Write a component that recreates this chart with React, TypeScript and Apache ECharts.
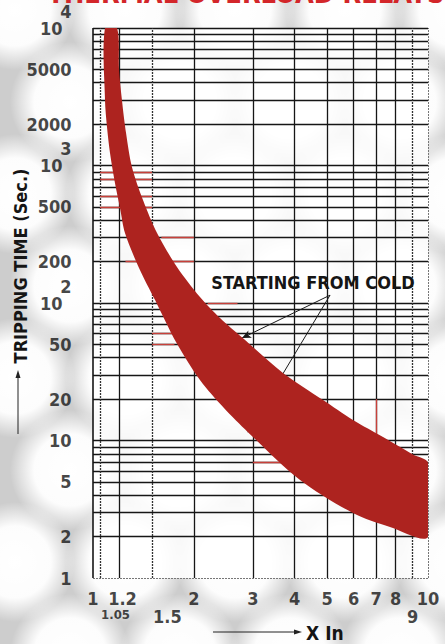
import React, { useEffect, useRef } from "react";
import * as echarts from "echarts";

const FONT = '"Liberation Sans Narrow","DejaVu Sans Condensed","Liberation Sans",Arial,sans-serif';
const RED = "#ad231f";

// Band boundaries (X In, seconds)
const upperX = [1.179, 1.196, 1.22, 1.255, 1.307, 1.41, 1.553, 1.781, 2.086, 2.394, 2.8, 3.69, 4.86, 5.97, 7.34, 9.02, 10];
const upperY = [10000, 4950, 2995, 1723, 975, 561, 323, 183, 110.6, 77.8, 55.6, 31, 19.7, 14.1, 10.6, 7.9, 6.86];
const lowerX = [1.086, 1.086, 1.101, 1.124, 1.163, 1.204, 1.246, 1.372, 1.532, 1.769, 2.086, 2.46, 2.9, 4.15, 5.97, 7.7, 10];
const lowerY = [10000, 2995, 1905, 1233, 746, 491, 323, 180, 105, 52, 27.5, 17.2, 11.5, 5.16, 2.97, 2.35, 1.99];

// Grid
const xGridSolid = [1.2, 2, 3, 4, 5, 6, 7, 8];
const xGridDotted = [1.05, 1.5, 9];
const yGridLines = [2, 3, 4, 5, 6, 7, 8, 9, 10, 20, 30, 40, 50, 60, 70, 80, 90, 100, 200, 300, 400, 500, 600, 700, 800, 900, 1000, 2000, 3000, 4000, 5000, 6000, 7000, 8000, 9000, 10000];

// Tick labels
const xLabelsMain = [1, 1.2, 2, 3, 4, 5, 6, 7, 8, 10];
const xLabelsLow = [1.05, 1.5, 9];
const yLabels = [1, 2, 5, 10, 20, 50, 100, 200, 500, 1000, 2000, 5000, 10000];
const yPowers: Record<number, string> = { 100: "2", 1000: "3", 10000: "4" };

// Faint red print strokes on the grid [x1, x2, y]
const redStrokesH = [[1.05, 1.5, 900], [1.05, 1.5, 800], [1.05, 1.5, 600], [1.05, 1.5, 500], [1.6, 2, 300], [1.25, 2, 200], [1.5, 1.75, 60], [1.5, 1.75, 50], [2.2, 2.7, 100], [3, 4, 7]];
const redStrokesV = [[7, 9, 20]];

// Annotation arrows
const coldFrom = [5.1, 114];
const coldTo = [[2.785, 55.6], [2.9, 11.5]];

export default function App() {
  const ref = useRef<HTMLDivElement>(null);
  useEffect(() => {
    document.body.style.margin = "0";
    const chart = echarts.init(ref.current!, null, { renderer: "svg" });

    const bgCircles: any[] = [];
    for (let r = 0; r < 8; r++) {
      for (let c = 0; c < 6; c++) {
        const cx = c * 110 + (r % 2 ? 55 : 0) + 15;
        const cy = r * 92 + 10;
        bgCircles.push({
          type: "circle",
          shape: { cx, cy, r: 60 },
          style: {
            fill: {
              type: "radial", x: 0.5, y: 0.5, r: 0.5,
              colorStops: [
                { offset: 0, color: "rgba(255,255,255,1)" },
                { offset: 0.6, color: "rgba(255,255,255,0.95)" },
                { offset: 1, color: "rgba(255,255,255,0)" },
              ],
            },
          },
          silent: true,
          z: -100,
        });
      }
    }

    const labelStyle = { fontFamily: FONT, fontWeight: "bold", color: "#151515" };

    const option: any = {
      animation: false,
      backgroundColor: "#cdcdcd",
      grid: { left: 93, right: 17, top: 28, bottom: 66, show: true, backgroundColor: "rgba(255,255,255,0.86)", borderWidth: 0 },
      xAxis: {
        type: "log", logBase: 10, min: 1, max: 10,
        axisLine: { show: false }, axisTick: { show: false }, axisLabel: { show: false }, splitLine: { show: false },
      },
      yAxis: {
        type: "log", logBase: 10, min: 1, max: 10000,
        axisLine: { show: false }, axisTick: { show: false }, axisLabel: { show: false }, splitLine: { show: false },
      },
      graphic: [
        ...bgCircles,
        {
          type: "text", x: 246, y: 7, z: 1,
          style: { text: "THERMAL OVERLOAD RELAYS", fill: "#d3262a", font: `bold 27px ${FONT}`, align: "center", verticalAlign: "bottom" },
        },
        {
          type: "text", x: 20, y: 266, rotation: Math.PI / 2, z: 10,
          style: { text: "TRIPPING TIME (Sec.)", fill: "#151515", font: `bold 18px ${FONT}`, align: "center", verticalAlign: "middle" },
        },
        { type: "line", shape: { x1: 18, y1: 434, x2: 18, y2: 377 }, style: { stroke: "#222", lineWidth: 1 }, z: 10 },
        { type: "polygon", shape: { points: [[18, 370], [15.5, 378], [20.5, 378]] }, style: { fill: "#222" }, z: 10 },
        { type: "line", shape: { x1: 213, y1: 632, x2: 295, y2: 632 }, style: { stroke: "#222", lineWidth: 1 }, z: 10 },
        { type: "polygon", shape: { points: [[302, 632], [294, 629.5], [294, 634.5]] }, style: { fill: "#222" }, z: 10 },
        {
          type: "text", x: 306, y: 633, z: 10,
          style: { text: "X In", fill: "#151515", font: `bold 19px ${FONT}`, align: "left", verticalAlign: "middle" },
        },
        {
          type: "text", x: 313, y: 282, z: 10,
          style: { text: "STARTING FROM COLD", fill: "#151515", font: `bold 18px ${FONT}`, align: "center", verticalAlign: "middle" },
        },
      ],
      series: [
        // grid lines
        {
          type: "line", data: [[1, 1]], symbol: "none", lineStyle: { opacity: 0 }, silent: true, z: 1,
          markLine: {
            silent: true, symbol: ["none", "none"], label: { show: false }, animation: false,
            lineStyle: { color: "#161616", width: 1.3, type: "solid" },
            data: [
              ...yGridLines.map((v) => ({ yAxis: v })),
              ...xGridSolid.map((v) => ({ xAxis: v })),
              { xAxis: 1, lineStyle: { width: 1.6 } },
              ...xGridDotted.map((v) => ({ xAxis: v, lineStyle: { type: [2, 1], width: 1.3, color: "#333" } })),
              ...xGridDotted.map((v) => [
                { coord: [v, 1], lineStyle: { type: [2, 1], width: 1.2, color: "#555" } },
                { coord: [v, 0.76] },
              ]),
              { yAxis: 1, lineStyle: { type: [2, 1], width: 1, color: "#777" } },
              { xAxis: 10, lineStyle: { type: [2, 1], width: 1, color: "#777" } },
            ],
          },
        },
        // red print strokes
        {
          type: "line", data: [[1, 1]], symbol: "none", lineStyle: { opacity: 0 }, silent: true, z: 2,
          markLine: {
            silent: true, symbol: ["none", "none"], label: { show: false }, animation: false,
            lineStyle: { color: "#c8403a", width: 1.3, type: "solid" },
            data: [
              ...redStrokesH.map(([a, b, y]) => [{ coord: [a, y] }, { coord: [b, y] }]),
              ...redStrokesV.map(([x, a, b]) => [{ coord: [x, a] }, { coord: [x, b] }]),
            ],
          },
        },
        // tripping band
        {
          type: "custom", coordinateSystem: "cartesian2d", data: [[1, 1]], z: 5, silent: true, clip: true,
          renderItem: (_params: any, api: any) => {
            const pts: number[][] = [];
            for (let i = 0; i < upperX.length; i++) pts.push(api.coord([upperX[i], upperY[i]]));
            for (let i = lowerX.length - 1; i >= 0; i--) pts.push(api.coord([lowerX[i], lowerY[i]]));
            return { type: "polygon", shape: { points: pts, smooth: 0.3 }, style: { fill: RED } };
          },
        },
        // annotation arrows
        {
          type: "line", data: [[1, 1]], symbol: "none", lineStyle: { opacity: 0 }, silent: true, z: 8,
          markLine: {
            silent: true, symbol: ["none", "arrow"], symbolSize: [6, 9], label: { show: false }, animation: false,
            lineStyle: { color: "#1a1a1a", width: 1, type: "solid" },
            data: coldTo.map((t) => [{ coord: coldFrom }, { coord: t }]),
          },
        },
        // y labels
        {
          type: "scatter", data: yLabels.map((v) => [1, v]), symbolSize: 1, itemStyle: { color: "rgba(0,0,0,0)" }, silent: true, clip: false, z: 9,
          label: {
            show: true, position: "left", distance: 21,
            formatter: (p: any) => {
              const v = p.value[1];
              if (yPowers[v]) return `{s|${yPowers[v]}}\n{n|10}\n{s| }`;
              return `{m|${v}}`;
            },
            rich: {
              s: { ...labelStyle, fontSize: 18, lineHeight: 16 },
              n: { ...labelStyle, fontSize: 18, lineHeight: 18, padding: [0, 9, 0, 0] },
              m: { ...labelStyle, fontSize: 18 },
            },
          },
        },
        // x labels main row
        {
          type: "scatter",
          data: xLabelsMain.map((v) => ({ value: [v, 1], label: v === 1.2 ? { offset: [3, 0] } : undefined })),
          symbolSize: 1, itemStyle: { color: "rgba(0,0,0,0)" }, silent: true, clip: false, z: 9,
          label: { show: true, position: "bottom", distance: 11, formatter: (p: any) => String(p.value[0]), ...labelStyle, fontSize: 18 },
        },
        // x labels lower row
        {
          type: "scatter",
          data: xLabelsLow.map((v) => ({ value: [v, 1], label: v < 2 ? { align: "left", offset: [1, 0] } : undefined })),
          symbolSize: 1, itemStyle: { color: "rgba(0,0,0,0)" }, silent: true, clip: false, z: 9,
          label: {
            show: true, position: "bottom", distance: 29,
            formatter: (p: any) => (p.value[0] === 1.05 ? `{sm|1.05}` : `{md|${p.value[0]}}`),
            rich: { sm: { ...labelStyle, fontSize: 13 }, md: { ...labelStyle, fontSize: 18 } },
          },
        },
      ],
    };
    chart.setOption(option);
    return () => chart.dispose();
  }, []);
  return <div ref={ref} style={{ width: 445, height: 644 }} />;
}
